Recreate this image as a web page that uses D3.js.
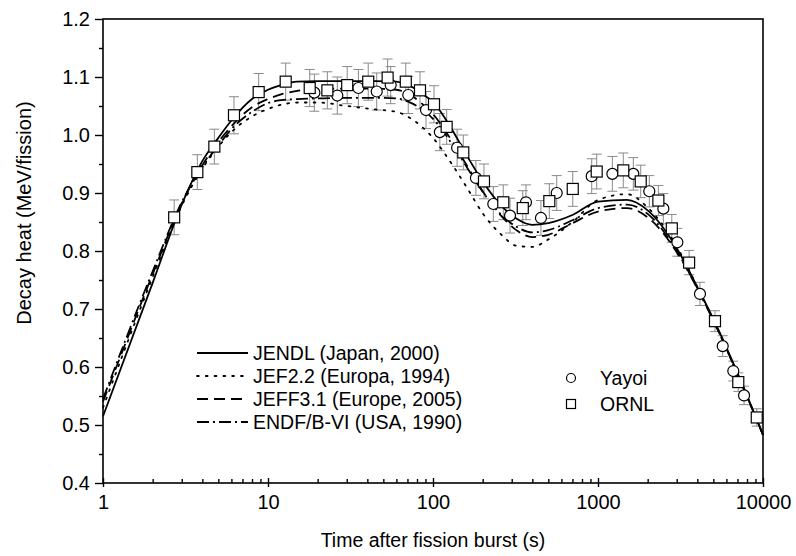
<!DOCTYPE html>
<html>
<head>
<meta charset="utf-8">
<script src="https://d3js.org/d3.v7.min.js"></script>
<style>
  body { margin: 0; background: #fff; }
  text { font-family: "Liberation Sans", Arial, sans-serif; fill: #000; }
  .model { fill: none; stroke: #000; stroke-width: 1.8; }
  .err { stroke: #8a8a8a; stroke-width: 1; fill: none; }
  .mark { fill: #fff; stroke: #000; stroke-width: 1.2; }
</style>
</head>
<body>
<script>
// time grid for the calculated curves (s)
var calcTimes = [1, 2, 3, 4, 5, 6, 8, 10, 12, 15, 20, 30, 45, 60, 70, 85, 100, 130, 160, 200,
                 260, 320, 400, 500, 700, 1000, 1500, 2000, 3000, 4000, 5000, 7000, 10000];

var jendl = [0.515, 0.745, 0.880, 0.955, 0.995, 1.025, 1.062, 1.078, 1.086, 1.092, 1.093, 1.093, 1.093,
             1.092, 1.087, 1.072, 1.057, 1.010, 0.965, 0.920, 0.878, 0.856, 0.845, 0.848, 0.862, 0.885,
             0.888, 0.870, 0.805, 0.738, 0.683, 0.590, 0.483];
var jef22 = [0.530, 0.755, 0.878, 0.942, 0.980, 1.005, 1.032, 1.045, 1.052, 1.056, 1.056, 1.050, 1.044,
             1.040, 1.032, 1.015, 0.995, 0.950, 0.910, 0.865, 0.828, 0.809, 0.807, 0.820, 0.850, 0.888,
             0.898, 0.875, 0.808, 0.738, 0.682, 0.588, 0.483];
var jeff31 = [0.540, 0.760, 0.882, 0.948, 0.988, 1.015, 1.048, 1.062, 1.070, 1.076, 1.079, 1.080, 1.080,
              1.078, 1.072, 1.055, 1.036, 0.990, 0.948, 0.903, 0.860, 0.836, 0.824, 0.828, 0.848, 0.868,
              0.874, 0.858, 0.798, 0.735, 0.680, 0.588, 0.483];
var endf = [0.545, 0.765, 0.884, 0.945, 0.982, 1.010, 1.040, 1.055, 1.060, 1.062, 1.063, 1.064, 1.064,
            1.063, 1.058, 1.045, 1.028, 0.985, 0.945, 0.902, 0.862, 0.842, 0.832, 0.836, 0.853, 0.874,
            0.880, 0.864, 0.800, 0.736, 0.681, 0.588, 0.483];

// measurements
var yayoiT = [19.1, 26.3, 35.3, 45.6, 55.4, 70.8, 90.7, 110, 140, 182, 232, 293, 366, 451, 562,
              916, 1222, 1637, 2046, 2489, 3026, 4150, 5699, 6607, 7677];
var yayoiV = [1.073, 1.068, 1.081, 1.075, 1.086, 1.069, 1.043, 1.005, 0.978, 0.926, 0.881, 0.861, 0.884,
              0.857, 0.900, 0.929, 0.933, 0.933, 0.903, 0.873, 0.815, 0.726, 0.636, 0.593, 0.551];
var yayoiE = [0.032, 0.032, 0.032, 0.032, 0.032, 0.032, 0.032, 0.032, 0.032, 0.030, 0.030, 0.030, 0.030,
              0.030, 0.030, 0.030, 0.030, 0.028, 0.027, 0.026, 0.024, 0.020, 0.018, 0.017, 0.016];

var ornlT = [2.70, 3.73, 4.73, 6.22, 8.78, 12.8, 17.9, 22.9, 30.2, 40.5, 53.1, 68.4, 83.4, 101.4, 121,
             152.6, 203.7, 266.6, 350, 507, 703, 982, 1423, 1815, 2322, 2801, 3566, 5117, 7083, 9165];
var ornlV = [0.858, 0.936, 0.980, 1.034, 1.074, 1.092, 1.081, 1.077, 1.086, 1.092, 1.099, 1.092, 1.077,
             1.053, 1.014, 0.970, 0.920, 0.884, 0.874, 0.886, 0.907, 0.937, 0.939, 0.920, 0.887, 0.839,
             0.780, 0.679, 0.574, 0.513];
var ornlE = [0.030, 0.030, 0.030, 0.032, 0.032, 0.032, 0.032, 0.032, 0.032, 0.032, 0.032, 0.032, 0.032,
             0.032, 0.030, 0.030, 0.030, 0.030, 0.030, 0.030, 0.030, 0.030, 0.030, 0.028, 0.026, 0.024,
             0.021, 0.018, 0.016, 0.015];

var xMajor = [1, 10, 100, 1000, 10000];
var yMajor = [0.4, 0.5, 0.6, 0.7, 0.8, 0.9, 1.0, 1.1, 1.2];

var models = [
  { name: "JENDL (Japan, 2000)", values: jendl, dash: null },
  { name: "JEF2.2 (Europa, 1994)", values: jef22, dash: "1.8,7" },
  { name: "JEFF3.1 (Europe, 2005)", values: jeff31, dash: "11,6" },
  { name: "ENDF/B-VI (USA, 1990)", values: endf, dash: "12,4,2,4" }
];

var W = 796, H = 556;
var svg = d3.select("body").append("svg").attr("width", W).attr("height", H);

var x = d3.scaleLog().domain([1, 10000]).range([103, 763]);
var y = d3.scaleLinear().domain([0.4, 1.2]).range([483, 19]);

// minor tick values
var xMinor = [];
for (var d = 1; d < 10000; d *= 10)
  for (var k = 2; k <= 9; k++) xMinor.push(d * k);
var yMinor = d3.range(0.45, 1.2, 0.1);

// frame
svg.append("rect").attr("x", 103).attr("y", 19).attr("width", 660).attr("height", 464)
   .attr("fill", "none").attr("stroke", "#000").attr("stroke-width", 1.6);

// error bars
function errBars(ts, vs, es) {
  var g = svg.append("g").attr("class", "err");
  ts.forEach(function(t, i) {
    var cx = x(t), y1 = y(vs[i] + es[i]), y2 = y(vs[i] - es[i]);
    g.append("line").attr("x1", cx).attr("x2", cx).attr("y1", y1).attr("y2", y2);
    g.append("line").attr("x1", cx - 5).attr("x2", cx + 5).attr("y1", y1).attr("y2", y1);
    g.append("line").attr("x1", cx - 5).attr("x2", cx + 5).attr("y1", y2).attr("y2", y2);
  });
}
errBars(yayoiT, yayoiV, yayoiE);
errBars(ornlT, ornlV, ornlE);

// calculated curves
var line = d3.line()
  .x(function(d) { return x(d[0]); })
  .y(function(d) { return y(d[1]); })
  .curve(d3.curveMonotoneX);

models.forEach(function(m) {
  svg.append("path")
     .attr("class", "model")
     .attr("d", line(calcTimes.map(function(t, i) { return [t, m.values[i]]; })))
     .attr("stroke-dasharray", m.dash)
     .attr("stroke-linecap", m.dash === "1.8,7" ? "round" : "butt");
});

// markers
svg.append("g").selectAll("circle").data(yayoiT).enter().append("circle")
   .attr("class", "mark")
   .attr("cx", function(t) { return x(t); })
   .attr("cy", function(t, i) { return y(yayoiV[i]); })
   .attr("r", 5.5);

svg.append("g").selectAll("rect").data(ornlT).enter().append("rect")
   .attr("class", "mark")
   .attr("x", function(t) { return x(t) - 5.5; })
   .attr("y", function(t, i) { return y(ornlV[i]) - 5.5; })
   .attr("width", 11).attr("height", 11);

// axes
var xAxis = svg.append("g").attr("transform", "translate(0,483)")
  .call(d3.axisBottom(x).tickValues(xMajor).tickSize(4).tickPadding(8)
        .tickFormat(d3.format("d")));
xAxis.selectAll(".tick line").attr("y1", -5);
svg.append("g").attr("transform", "translate(0,483)")
  .call(d3.axisBottom(x).tickValues(xMinor).tickSize(-4).tickFormat(""));

svg.append("g").attr("transform", "translate(103,0)")
  .call(d3.axisLeft(y).tickValues(yMajor).tickSize(8).tickPadding(5)
        .tickFormat(d3.format(".1f")));
svg.append("g").attr("transform", "translate(103,0)")
  .call(d3.axisLeft(y).tickValues(yMinor).tickSize(4).tickFormat(""));

svg.selectAll(".domain").remove();
svg.selectAll(".tick line").attr("stroke", "#000").attr("stroke-width", 1.4);
svg.selectAll(".tick text").attr("font-size", 20).attr("font-family", "Liberation Sans, Arial, sans-serif");

// axis titles
svg.append("text").attr("x", 433).attr("y", 547).attr("text-anchor", "middle")
   .attr("font-size", 19.5).text("Time after fission burst (s)");
svg.append("text").attr("transform", "translate(31,213) rotate(-90)").attr("text-anchor", "middle")
   .attr("font-size", 20).text("Decay heat (MeV/fission)");

// legend: models
var legRows = [353, 376, 399, 422];
models.forEach(function(m, i) {
  svg.append("line").attr("class", "model")
     .attr("x1", 197).attr("x2", 248).attr("y1", legRows[i]).attr("y2", legRows[i])
     .attr("stroke-dasharray", m.dash)
     .attr("stroke-linecap", m.dash === "1.8,7" ? "round" : "butt");
  svg.append("text").attr("x", 253).attr("y", legRows[i] + 7).attr("font-size", 19.5).text(m.name);
});

// legend: measurements
svg.append("circle").attr("class", "mark").attr("cx", 571).attr("cy", 378).attr("r", 4.5);
svg.append("text").attr("x", 600).attr("y", 385).attr("font-size", 19.5).text("Yayoi");
svg.append("rect").attr("class", "mark").attr("x", 566.5).attr("y", 399.5).attr("width", 9).attr("height", 9);
svg.append("text").attr("x", 600).attr("y", 411).attr("font-size", 19.5).text("ORNL");
</script>
</body>
</html>
